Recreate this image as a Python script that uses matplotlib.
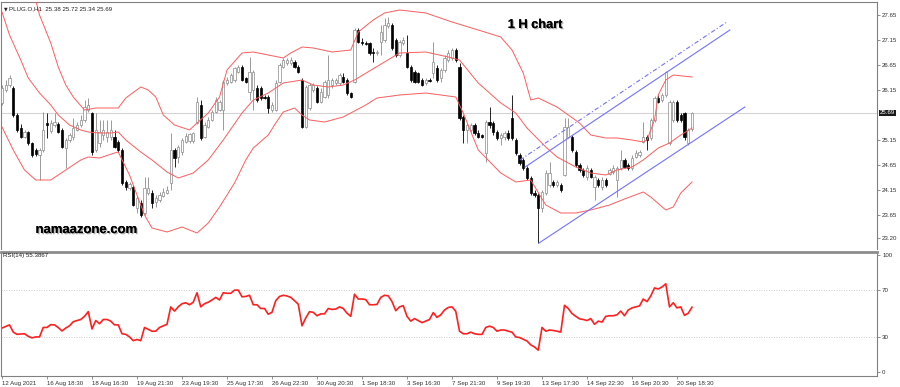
import numpy as np
import matplotlib.pyplot as plt
import matplotlib.patheffects as pe
import matplotlib.transforms as mtransforms

plt.rcParams['font.family'] = ['Liberation Sans', 'DejaVu Sans']

# hourly candles, PLUG.O, 12 Aug - 20 Sep 2021
opens = [
    25.89, 26.15, 26.25, 26.19, 25.65, 25.39, 25.21, 25.31, 25.09, 24.95,
    24.85, 24.95, 25.49, 25.33, 25.45, 25.47, 25.35, 24.99, 25.15, 25.21,
    25.35, 25.45, 25.55, 25.75, 25.69, 24.95, 25.09, 25.25, 25.21, 25.21,
    25.21, 25.11, 24.95, 24.31, 24.19, 24.21, 23.79, 23.89, 23.69, 24.09,
    24.09, 23.91, 23.95, 24.03, 24.09, 24.29, 24.95, 24.81, 24.91, 25.11,
    25.13, 25.13, 25.49, 25.85, 25.21, 25.41, 25.55, 25.71, 25.75, 25.75,
    26.29, 26.31, 26.35, 26.51, 26.61, 26.39, 26.11, 26.15, 26.19, 26.19,
    26.01, 26.01, 25.75, 25.75, 26.31, 26.61, 26.69, 26.69, 26.71, 26.61,
    26.35, 25.41, 25.79, 26.15, 26.19, 25.91, 26.01, 26.05, 26.25, 26.29,
    26.29, 26.41, 26.35, 26.09, 26.31, 27.35, 27.11, 27.09, 27.09, 26.91,
    26.89, 27.11, 27.15, 27.43, 27.45, 27.15, 26.85, 27.09, 26.89, 26.61,
    26.51, 26.49, 26.35, 26.29, 26.35, 26.49, 26.59, 26.39, 26.55, 26.75,
    26.79, 26.95, 26.61, 25.61, 25.35, 25.35, 25.45, 25.29, 25.25, 24.89,
    25.51, 25.49, 25.31, 25.19, 25.21, 25.29, 25.59, 25.15, 24.85, 24.75,
    24.59, 24.39, 24.09, 24.05, 23.79, 24.09, 24.25, 24.31, 24.25, 24.25,
    24.45, 25.21, 25.21, 24.91, 24.65, 24.55, 24.41, 24.55, 24.21, 24.35,
    24.21, 24.35, 24.47, 24.51, 24.35, 24.59, 24.75, 24.65, 24.59, 24.81,
    24.85, 25.11, 25.21, 25.19, 25.55, 25.99, 25.95, 26.05, 25.09, 25.55,
    25.91, 25.65, 25.69, 25.09, 25.38]
highs = [
    26.25, 26.35, 26.45, 26.23, 25.69, 25.47, 25.35, 25.33, 25.11, 24.99,
    24.99, 25.71, 25.69, 25.55, 25.69, 25.51, 25.39, 25.19, 25.29, 25.59,
    25.51, 25.65, 25.95, 25.99, 25.71, 25.69, 25.55, 25.55, 25.55, 25.55,
    25.35, 25.15, 24.99, 24.35, 24.31, 24.25, 24.03, 23.95, 24.41, 24.41,
    24.15, 24.05, 24.11, 24.19, 24.23, 25.29, 24.99, 25.05, 25.19, 25.29,
    25.29, 25.31, 26.01, 25.95, 25.51, 25.61, 25.75, 26.01, 25.95, 26.35,
    26.41, 26.49, 26.61, 26.65, 26.65, 26.41, 26.81, 26.55, 26.25, 26.23,
    26.05, 26.05, 25.91, 26.35, 26.69, 26.79, 26.79, 26.81, 26.75, 26.65,
    26.39, 26.25, 26.29, 26.29, 26.23, 26.19, 26.35, 26.85, 26.39, 26.39,
    26.49, 26.49, 26.39, 26.11, 27.39, 27.39, 27.19, 27.13, 27.11, 26.99,
    26.95, 27.45, 27.59, 27.61, 27.49, 27.19, 27.15, 27.21, 27.25, 26.65,
    26.55, 26.51, 26.39, 26.39, 26.39, 27.11, 26.65, 26.59, 26.85, 26.95,
    26.99, 26.99, 26.69, 25.65, 25.49, 25.49, 25.49, 25.35, 25.27, 25.55,
    25.81, 25.53, 25.35, 25.29, 25.33, 25.35, 26.05, 25.19, 24.89, 24.79,
    24.63, 24.43, 24.15, 24.09, 24.15, 24.55, 24.71, 24.35, 24.35, 24.29,
    25.59, 25.59, 25.25, 24.95, 24.69, 24.59, 24.65, 24.59, 24.45, 24.39,
    24.41, 24.39, 24.59, 24.65, 24.63, 24.95, 24.79, 24.69, 24.85, 24.95,
    24.95, 25.51, 25.25, 25.59, 26.03, 26.05, 26.09, 26.53, 25.95, 25.95,
    25.95, 25.69, 25.71, 25.39, 25.72]
lows = [
    25.85, 26.11, 26.21, 25.61, 25.31, 25.19, 25.19, 25.05, 24.81, 24.83,
    24.35, 24.91, 25.19, 25.29, 25.41, 25.29, 24.99, 24.59, 25.11, 25.15,
    25.33, 25.41, 25.51, 25.71, 24.85, 24.91, 25.01, 25.15, 25.11, 25.15,
    24.99, 24.91, 24.25, 24.15, 24.15, 23.83, 23.69, 23.61, 23.65, 24.05,
    23.79, 23.81, 23.91, 24.01, 24.07, 24.15, 24.61, 24.69, 24.85, 25.09,
    25.09, 25.09, 25.47, 25.15, 25.19, 25.39, 25.53, 25.69, 25.73, 25.35,
    26.25, 26.29, 26.31, 26.49, 26.33, 26.29, 25.95, 25.75, 25.91, 25.95,
    25.97, 25.69, 25.71, 25.73, 26.29, 26.59, 26.65, 26.65, 26.59, 26.49,
    25.39, 25.39, 25.75, 26.11, 25.89, 25.89, 25.99, 25.99, 26.19, 26.25,
    26.25, 26.29, 26.05, 25.99, 26.29, 27.09, 27.05, 27.05, 26.85, 26.71,
    26.85, 26.85, 27.11, 27.39, 26.95, 26.81, 26.81, 27.05, 26.59, 26.31,
    26.29, 26.29, 26.23, 26.25, 26.31, 26.39, 26.31, 26.31, 26.51, 26.71,
    26.75, 26.71, 25.55, 25.09, 25.09, 25.31, 25.25, 25.19, 25.19, 24.71,
    25.39, 25.25, 25.15, 25.05, 25.15, 25.15, 25.15, 24.85, 24.65, 24.55,
    24.35, 24.05, 24.01, 23.09, 23.71, 24.05, 24.21, 24.21, 24.21, 24.11,
    24.43, 25.19, 24.91, 24.61, 24.51, 24.41, 24.35, 24.39, 23.95, 24.21,
    24.15, 24.21, 24.45, 24.47, 24.01, 24.55, 24.59, 24.55, 24.55, 24.79,
    24.81, 25.09, 24.95, 25.15, 25.51, 25.89, 25.91, 26.01, 25.05, 25.51,
    25.51, 25.51, 25.15, 25.05, 25.34]
closes = [
    26.19, 26.25, 26.39, 25.65, 25.35, 25.21, 25.31, 25.09, 24.85, 24.87,
    24.95, 25.35, 25.45, 25.49, 25.51, 25.31, 25.01, 25.15, 25.25, 25.39,
    25.45, 25.55, 25.81, 25.85, 24.91, 25.35, 25.31, 25.35, 25.31, 25.35,
    25.01, 24.95, 24.29, 24.21, 24.27, 23.85, 23.99, 23.65, 24.19, 24.19,
    23.89, 23.99, 24.05, 24.11, 24.15, 24.95, 24.79, 25.01, 25.15, 25.23,
    25.27, 25.29, 25.91, 25.19, 25.45, 25.55, 25.71, 25.95, 25.91, 26.31,
    26.35, 26.45, 26.59, 26.61, 26.35, 26.31, 26.51, 26.51, 25.95, 25.99,
    25.99, 25.79, 25.85, 26.29, 26.65, 26.75, 26.75, 26.75, 26.61, 26.51,
    25.41, 26.21, 26.25, 26.25, 25.91, 26.11, 26.31, 26.35, 26.35, 26.35,
    26.45, 26.31, 26.09, 26.01, 27.35, 27.11, 27.09, 27.07, 26.89, 26.89,
    26.91, 27.31, 27.45, 27.49, 26.99, 26.85, 27.11, 27.15, 26.61, 26.35,
    26.31, 26.31, 26.25, 26.35, 26.34, 26.71, 26.35, 26.55, 26.79, 26.89,
    26.95, 26.75, 25.59, 25.35, 25.45, 25.45, 25.29, 25.21, 25.21, 25.51,
    25.45, 25.31, 25.19, 25.25, 25.29, 25.19, 25.19, 24.89, 24.69, 24.59,
    24.39, 24.09, 24.05, 23.79, 24.11, 24.49, 24.49, 24.25, 24.31, 24.15,
    25.41, 25.41, 24.95, 24.65, 24.55, 24.45, 24.59, 24.41, 24.41, 24.25,
    24.35, 24.25, 24.55, 24.59, 24.59, 24.75, 24.61, 24.59, 24.79, 24.89,
    24.91, 25.21, 25.15, 25.55, 25.99, 25.91, 26.05, 26.51, 25.91, 25.91,
    25.55, 25.55, 25.21, 25.35, 25.69]

# Bollinger bands (20, 2) at sample bars
upper_bar = [0, 9, 10, 13, 15, 17, 19, 22, 25, 31, 33, 37, 39, 41, 43, 46, 50, 52, 55, 58,
             60, 64, 67, 71, 75, 77, 80, 83, 88, 93, 95, 99, 102, 106, 113, 120, 127, 133, 136, 139,
             141, 143, 148, 151, 154, 157, 161, 164, 168, 171, 172, 174, 175, 177, 179, 184]
upper_val = [29.75, 27.95, 27.65, 27.09, 26.61, 26.25, 26.01, 25.75, 25.79, 25.79,
             25.99, 26.21, 26.15, 26.01, 25.65, 25.45, 25.35, 25.49, 25.69, 26.01,
             26.55, 26.89, 26.91, 26.85, 26.79, 26.89, 27.01, 26.99, 26.91, 26.95,
             27.31, 27.55, 27.69, 27.75, 27.69, 27.51, 27.35, 27.21, 26.95, 26.49,
             25.95, 25.99, 25.81, 25.65, 25.49, 25.25, 25.19, 25.19, 25.15, 25.11,
             25.15, 25.55, 26.05, 26.35, 26.45, 26.41]
mid_bar = [0, 2, 5, 7, 10, 13, 15, 18, 21, 23, 26, 29, 31, 33, 37, 40, 44, 47, 51, 55,
           59, 64, 67, 71, 75, 80, 83, 87, 91, 94, 102, 106, 113, 119, 122, 127, 133, 137, 140, 145,
           148, 153, 157, 161, 164, 168, 171, 175, 178, 181, 184]
mid_val = [27.71, 27.25, 26.75, 26.39, 26.09, 25.85, 25.65, 25.45, 25.35, 25.31,
           25.29, 25.29, 25.31, 25.15, 24.91, 24.75, 24.51, 24.39, 24.49, 24.75,
           25.15, 25.69, 25.95, 26.09, 26.29, 26.35, 26.25, 26.21, 26.25, 26.35,
           26.71, 26.89, 26.91, 26.81, 26.75, 26.29, 25.89, 25.69, 25.39, 25.01,
           24.81, 24.61, 24.49, 24.45, 24.55, 24.61, 24.75, 24.99, 25.09, 25.25,
           25.39]
lower_bar = [0, 3, 6, 9, 13, 17, 21, 23, 26, 30, 31, 34, 38, 40, 44, 48, 52, 55, 58, 62,
             65, 67, 71, 73, 75, 78, 80, 82, 86, 91, 97, 100, 106, 113, 119, 121, 123, 127, 133, 137,
             141, 145, 149, 153, 157, 162, 166, 171, 173, 177, 179, 181, 184]
lower_val = [25.41, 24.95, 24.55, 24.35, 24.35, 24.55, 24.75, 24.81, 24.79, 24.89,
             24.91, 24.45, 23.65, 23.39, 23.31, 23.41, 23.29, 23.49, 23.81, 24.29,
             24.75, 24.99, 25.25, 25.49, 25.71, 25.79, 25.65, 25.55, 25.51, 25.61,
             25.85, 25.99, 26.05, 26.09, 26.03, 26.01, 25.69, 24.95, 24.49, 24.31,
             24.35, 23.85, 23.69, 23.69, 23.75, 23.85, 23.97, 24.11, 24.01, 23.75,
             23.81, 24.09, 24.31]

# RSI(14)
rsi = [
    37.6, 39.0, 40.3, 34.1, 32.2, 32.5, 32.7, 30.5, 29.2, 30.0,
    30.0, 38.1, 38.1, 40.5, 40.3, 38.0, 35.1, 37.6, 39.5, 43.0,
    44.0, 44.9, 47.6, 51.6, 36.8, 44.0, 41.3, 44.9, 44.9, 43.5,
    40.3, 40.3, 32.7, 32.2, 30.0, 26.8, 27.8, 26.8, 38.1, 36.5,
    34.9, 34.9, 38.1, 39.5, 40.8, 55.7, 52.1, 55.7, 58.4, 59.2,
    57.5, 59.7, 67.8, 55.7, 58.4, 59.7, 61.6, 63.8, 61.6, 67.8,
    67.3, 67.3, 70.0, 70.0, 64.3, 64.6, 65.6, 57.5, 57.5, 54.3,
    54.3, 49.4, 51.1, 61.0, 64.6, 65.6, 65.0, 63.8, 61.0, 58.0,
    39.5, 46.2, 51.6, 51.0, 48.1, 49.7, 49.7, 54.3, 53.5, 53.8,
    55.7, 54.3, 50.3, 47.6, 66.5, 62.4, 62.4, 61.9, 57.5, 57.5,
    57.8, 63.8, 65.6, 65.1, 60.2, 52.4, 55.7, 56.7, 47.6, 43.5,
    45.7, 44.0, 42.2, 43.5, 44.9, 50.8, 46.7, 48.9, 53.0, 55.2,
    55.7, 51.9, 34.9, 32.7, 32.7, 34.1, 32.7, 32.2, 32.2, 38.1,
    39.2, 38.1, 34.9, 35.9, 35.9, 34.9, 34.1, 30.0, 29.5, 28.0,
    26.5, 23.2, 21.4, 18.7, 38.1, 34.9, 35.9, 35.5, 34.9, 34.1,
    57.0, 54.3, 50.0, 47.6, 45.5, 44.9, 44.0, 45.7, 40.8, 43.5,
    42.7, 47.6, 48.1, 48.1, 48.9, 52.1, 48.1, 53.0, 54.8, 55.7,
    56.5, 62.4, 60.2, 65.0, 71.9, 71.0, 72.7, 75.4, 55.7, 59.2,
    54.8, 55.7, 48.4, 50.3, 55.4]

# trend channel drawn on the chart (bar index, price)
chan_low_x = [143.2, 198.1]
chan_low_y = [23.09, 25.81]
chan_up_x = [139.5, 194.1]
chan_up_y = [24.61, 27.35]
chan_dash_x = [138.1, 193.3]
chan_dash_y = [24.75, 27.51]

last_price = 25.69
price_ticks = [27.65, 27.15, 26.65, 26.15, 25.15, 24.65, 24.15, 23.65, 23.20]
rsi_ticks = [100, 70, 30, 0]
date_labels = ['12 Aug 2021', '16 Aug 18:30', '18 Aug 16:30', '19 Aug 21:30',
               '23 Aug 19:30', '25 Aug 17:30', '26 Aug 22:30', '30 Aug 20:30',
               '1 Sep 18:30', '3 Sep 16:30', '7 Sep 21:30', '9 Sep 19:30',
               '13 Sep 17:30', '14 Sep 22:30', '16 Sep 20:30', '20 Sep 18:30']

o = np.array(opens)
h = np.array(highs)
l = np.array(lows)
c = np.array(closes)
bars = np.arange(len(c))
up = c >= o

W, H = 900, 387
fig = plt.figure(figsize=(9, 3.87), dpi=100)
ax = fig.add_axes([1 / W, 1 - 249 / H, 876 / W, 247 / H])
ax2 = fig.add_axes([1 / W, 1 - 376 / H, 876 / W, 124 / H])

small = 4.4
grey = '#808080'

# main price panel
ax.axhline(last_price, color='#d4d4d4', lw=0.8, zorder=1)
wick_cols = np.where(up, '#8a8a8a', 'black')
ax.vlines(bars, l, h, colors=wick_cols, lw=0.6, zorder=2)
body_h = np.maximum(np.abs(c - o), 0.012)
ax.bar(bars, body_h, bottom=np.minimum(o, c), width=0.62,
       color=np.where(up, 'white', 'black'), edgecolor=wick_cols,
       linewidth=0.5, zorder=3)

band_col = '#ff5c5c'
ax.plot(upper_bar, upper_val, color=band_col, lw=0.7, zorder=4)
ax.plot(mid_bar, mid_val, color=band_col, lw=0.7, zorder=4)
ax.plot(lower_bar, lower_val, color=band_col, lw=0.7, zorder=4)

chan_col = '#7272ff'
ax.plot(chan_low_x, chan_low_y, color=chan_col, lw=0.8, zorder=5)
ax.plot(chan_up_x, chan_up_y, color=chan_col, lw=0.8, zorder=5)
ax.plot(chan_dash_x, chan_dash_y, color=chan_col, lw=0.8, zorder=5,
        linestyle=(0, (4, 2, 1, 2)))

ax.set_xlim(-0.27, 233.33)
ax.set_ylim(22.97, 27.91)
ax.set_xticks([])
ax.yaxis.tick_right()
ax.set_yticks(price_ticks)
ax.set_yticklabels(['%.2f' % p for p in price_ticks])
ax.tick_params(axis='y', labelsize=small, length=2, width=0.6, pad=1.5,
               color=grey, labelcolor='#303030')

trans = mtransforms.blended_transform_factory(ax.transAxes, ax.transData)
ax.text(1.003, last_price, '%.2f' % last_price, transform=trans, fontsize=small,
        color='white', va='center', ha='left',
        bbox=dict(boxstyle='square,pad=0.15', fc='#1a1a1a', ec='none'))

for side in ['left', 'right', 'top']:
    ax.spines[side].set_color(grey)
    ax.spines[side].set_linewidth(0.8)
ax.spines['bottom'].set_visible(False)

shadow = [pe.withSimplePatchShadow(offset=(0.9, -0.9), shadow_rgbFace='#707070', alpha=0.6),
          pe.Normal()]
fig.text(535 / W, 1 - 25 / H, '1 H chart', fontsize=9.2, fontweight='bold',
         ha='center', va='center', color='black', path_effects=shadow)
fig.text(86 / W, 1 - 230 / H, 'namaazone.com', fontsize=9.4, fontweight='bold',
         ha='center', va='center', color='black', path_effects=shadow)
fig.text(3.5 / W, 1 - 9 / H, '\u25bc', fontsize=3.4, ha='left', va='center',
         color='#202020', family=['DejaVu Sans'])
fig.text(9 / W, 1 - 9 / H, 'PLUG.O,H1  25.38 25.72 25.34 25.69', fontsize=small,
         ha='left', va='center', color='#202020')

# RSI panel
ax2.axhline(70, color='#bdbdbd', lw=0.6, ls=(0, (1, 2)))
ax2.axhline(30, color='#bdbdbd', lw=0.6, ls=(0, (1, 2)))
ax2.plot(bars, rsi, color='#ff1f1f', lw=1.2)
ax2.set_xlim(-0.27, 233.33)
ax2.set_ylim(-3.4, 102.6)
ax2.yaxis.tick_right()
ax2.set_yticks(rsi_ticks)
ax2.set_yticklabels([str(v) for v in rsi_ticks])
ax2.set_xticks(np.arange(len(date_labels)) * 12)
ax2.set_xticklabels(date_labels, ha='left')
ax2.tick_params(axis='both', labelsize=small, length=2.5, width=0.6, pad=1.2,
                color=grey, labelcolor='#303030')
for side in ['left', 'right', 'bottom']:
    ax2.spines[side].set_color(grey)
    ax2.spines[side].set_linewidth(0.8)
ax2.spines['top'].set_color('#8c8c8c')
ax2.spines['top'].set_linewidth(2.0)
fig.text(3 / W, 1 - 256 / H, 'RSI(14) 55.3867', fontsize=small, ha='left',
         va='center', color='#202020')

fig.savefig('out.png', dpi=100, facecolor='white')
